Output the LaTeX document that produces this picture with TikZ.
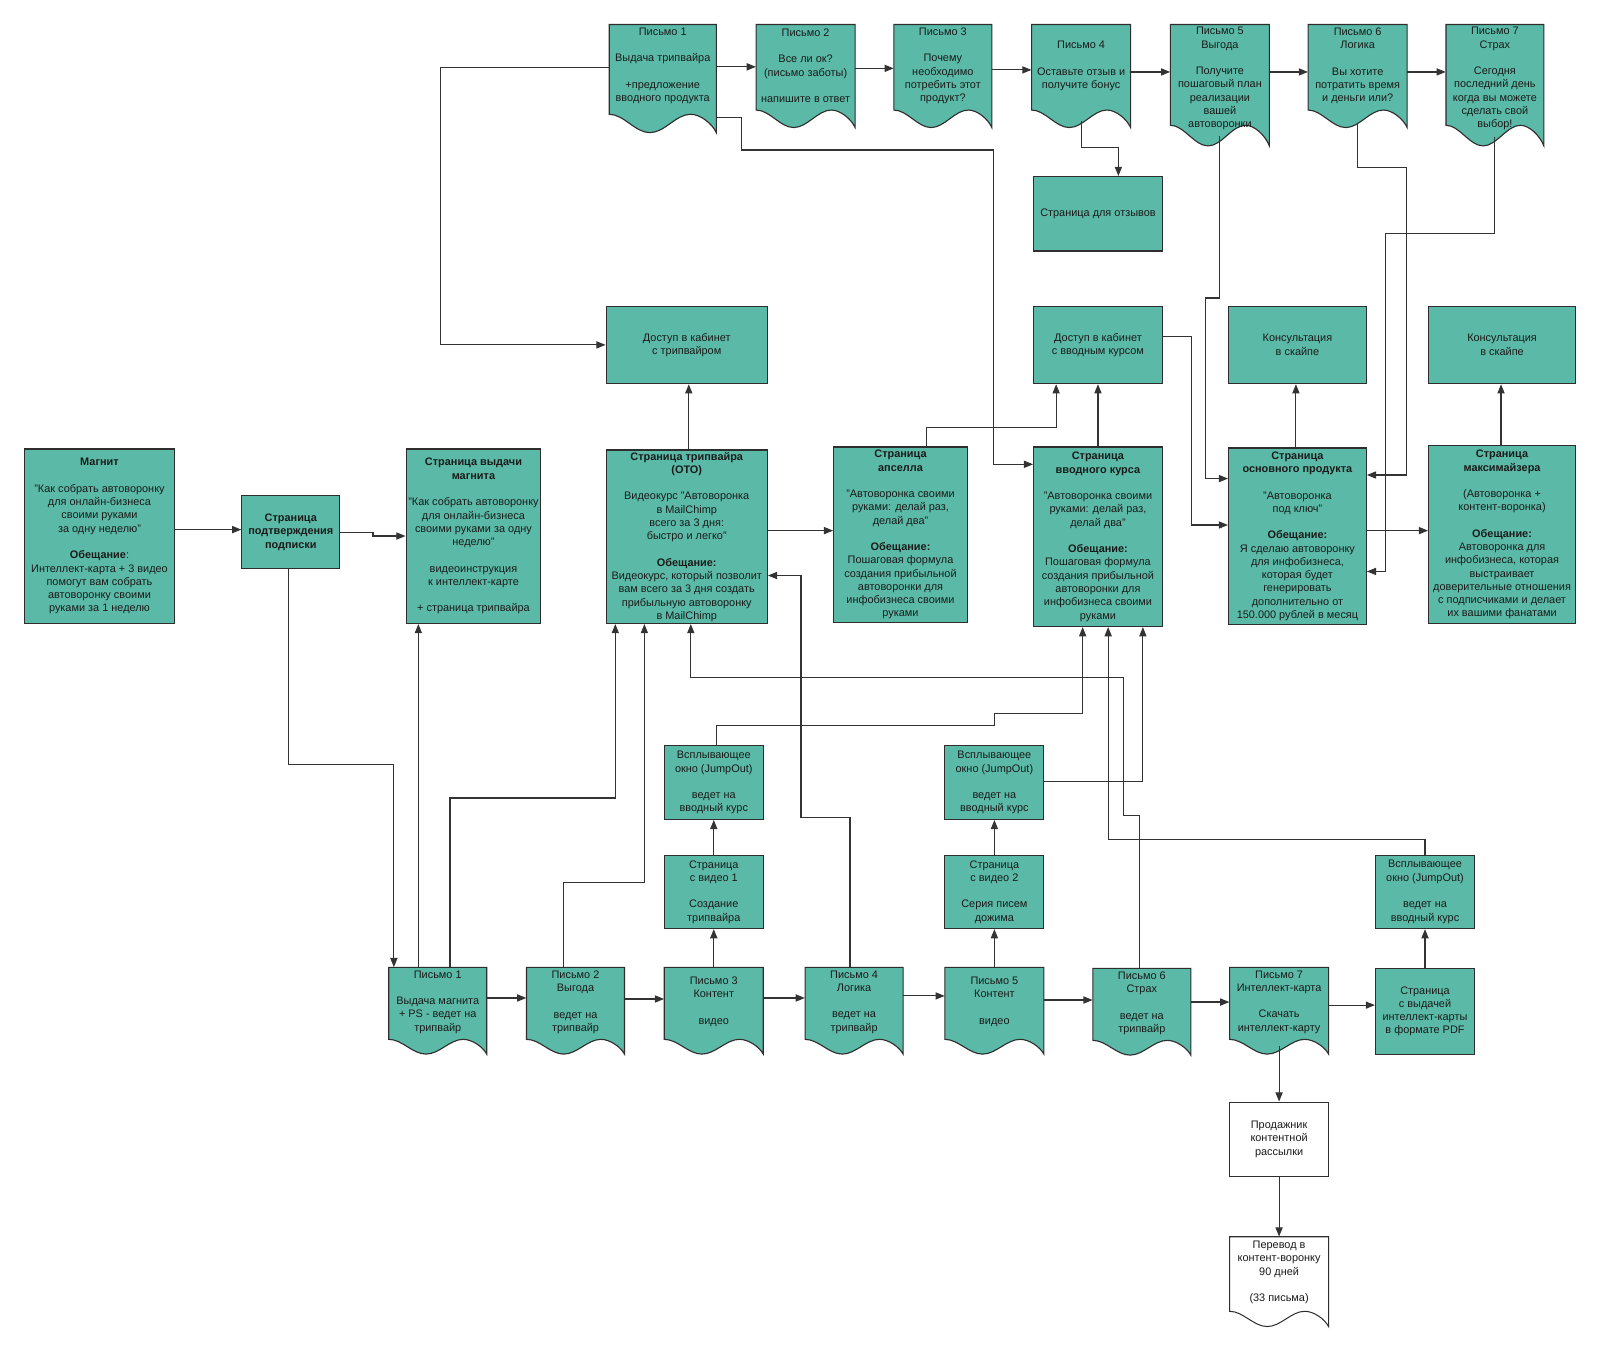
\documentclass[tikz,border=0pt]{standalone}
\usepackage{fontspec}
\setmainfont{Liberation Sans}
\usetikzlibrary{arrows.meta,fit}
\definecolor{tealc}{HTML}{5BBAA7}
\definecolor{bordc}{HTML}{2E2E2E}
\definecolor{linec}{HTML}{333333}
\definecolor{txtc}{HTML}{1A1A1A}
\newcommand\docshape[6]{%
  \pgfmathsetmacro\dW{#4-#2}%
  \pgfmathsetmacro\dD{0.17*(#5-#3)}%
  \pgfmathsetmacro\xA{#2+0.38*\dW}%
  \pgfmathsetmacro\xB{#2+0.76*\dW}%
  \pgfmathsetmacro\yC{#5-\dD}%
  \pgfmathsetmacro\cA{0.137*\dW}%
  \pgfmathsetmacro\cB{0.09*\dW}%
  \pgfmathsetmacro\cC{0.04*\dW}%
  \pgfmathsetmacro\cD{0.5*\dD}%
  \draw[#6] (#2,#3) -- (#2,\yC) .. controls +(\cA,0) and +(-\cA,0) .. (\xA,#5) .. controls +(\cA,0) and +(-\cA,0) .. (\xB,\yC) .. controls +(\cB,0) and +(-\cC,-\cD) .. (#4,#5) -- (#4,#3) -- cycle;
  \node[fit={(#2,#3) (#4,#5)}, inner sep=0pt, draw=none] (#1) {};
}
\begin{document}
\begin{tikzpicture}[x=1pt,y=-1pt,
  every node/.style={font=\fontsize{10.7}{13}\selectfont, text=txtc},
  rb/.style={draw=bordc, fill=tealc, line width=1.1pt, inner sep=1pt, align=center},
  wb/.style={draw=bordc, fill=white, line width=1pt, inner sep=1pt, align=center},
  docfill/.style={draw=bordc, fill=tealc, line width=1.1pt},
  docwhite/.style={draw=bordc, fill=white, line width=1pt},
  txt/.style={align=center, inner sep=0pt},
  arr/.style={draw=linec, line width=1.1pt, -{Triangle[length=9pt,width=7pt]}},
  ln/.style={draw=linec, line width=1.1pt},
]
\fill[white] (0,0) rectangle (1568,1323);
\useasboundingbox (0,0) rectangle (1568,1323);

% ---------- top row letters ----------
\docshape{t1}{597}{24}{702}{130}{docfill}
\node[txt] (t1t) at (649.5,64.5) {Письмо 1\\[13pt]Выдача трипвайра\\[13pt]+предложение\\вводного продукта};
\docshape{t2}{741}{24}{838}{125}{docfill}
\node[txt] (t2t) at (789.5,64.5) {Письмо 2\\[13pt]Все ли ок?\\(письмо заботы)\\[13pt]напишите в ответ};
\docshape{t3}{876}{24}{972}{125}{docfill}
\node[txt] (t3t) at (924,64.5) {Письмо 3\\[13pt]Почему\\необходимо\\потребить этот\\продукт?};
\docshape{t4}{1011}{24}{1108}{125}{docfill}
\node[txt] (t4t) at (1059.5,64.5) {Письмо 4\\[13pt]Оставьте отзыв и\\получите бонус};
\docshape{t5}{1147}{24}{1244}{143}{docfill}
\node[txt] (t5t) at (1195.5,77) {Письмо 5\\Выгода\\[13pt]Получите\\пошаговый план\\реализации\\вашей\\автоворонки};
\docshape{t6}{1282}{24}{1379}{125}{docfill}
\node[txt] (t6t) at (1330.5,64.5) {Письмо 6\\Логика\\[13pt]Вы хотите\\потратить время\\и деньги или?};
\docshape{t7}{1417}{24}{1513}{143}{docfill}
\node[txt] (t7t) at (1465,77) {Письмо 7\\Страх\\[13pt]Сегодня\\последний день\\когда вы можете\\сделать свой\\выбор!};

\node[rb, minimum width=126pt, minimum height=73pt] (otzyv) at (1076,209.5) {Страница для отзывов};

% ---------- middle row ----------
\node[rb, minimum width=147pt, minimum height=171pt] (magnit) at (97.5,525.5) {\textbf{Магнит}\\[13pt]"Как собрать автоворонку\\для онлайн-бизнеса\\своими руками\\за одну неделю"\\[13pt]\textbf{Обещание}:\\Интеллект-карта + 3 видео\\помогут вам собрать\\автоворонку своими\\руками за 1 неделю};
\node[rb, minimum width=96pt, minimum height=71pt] (podtv) at (285,521.5) {\textbf{Страница}\\\textbf{подтверждения}\\\textbf{подписки}};
\node[rb, minimum width=132pt, minimum height=171pt] (vydacha) at (464,525.5) {\textbf{Страница выдачи}\\\textbf{магнита}\\[13pt]"Как собрать автоворонку\\для онлайн-бизнеса\\своими руками за одну\\неделю"\\[13pt]видеоинструкция\\к интеллект-карте\\[13pt]+ страница трипвайра};
\node[rb, minimum width=158pt, minimum height=76pt] (dostup1) at (673,338) {Доступ в кабинет\\с трипвайром};
\node[rb, minimum width=158pt, minimum height=170pt] (tripw) at (673,526) {\textbf{Страница трипвайра}\\\textbf{(ОТО)}\\[13pt]Видеокурс "Автоворонка\\в MailChimp\\всего за 3 дня:\\быстро и легко"\\[13pt]\textbf{Обещание:}\\Видеокурс, который позволит\\вам всего за 3 дня создать\\прибыльную автоворонку\\в MailChimp};
\node[rb, minimum width=131pt, minimum height=172pt] (upsell) at (882.5,524) {\textbf{Страница}\\\textbf{апселла}\\[13pt]"Автоворонка своими\\руками: делай раз,\\делай два"\\[13pt]\textbf{Обещание:}\\Пошаговая формула\\создания прибыльной\\автоворонки для\\инфобизнеса своими\\руками};
\node[rb, minimum width=126pt, minimum height=176pt] (vvodn) at (1076,526) {\textbf{Страница}\\\textbf{вводного курса}\\[13pt]"Автоворонка своими\\руками: делай раз,\\делай два"\\[13pt]\textbf{Обещание:}\\Пошаговая формула\\создания прибыльной\\автоворонки для\\инфобизнеса своими\\руками};
\node[rb, minimum width=126pt, minimum height=76pt] (dostup2) at (1076,338) {Доступ в кабинет\\с вводным курсом};
\node[rb, minimum width=135pt, minimum height=173pt] (osnov) at (1271.5,525.5) {\textbf{Страница}\\\textbf{основного продукта}\\[13pt]"Автоворонка\\под ключ"\\[13pt]\textbf{Обещание:}\\Я сделаю автоворонку\\для инфобизнеса,\\которая будет\\генерировать\\дополнительно от\\150.000 рублей в месяц};
\node[rb, minimum width=135pt, minimum height=76pt] (konsul1) at (1271.5,338) {Консультация\\в скайпе};
\node[rb, minimum width=144pt, minimum height=174pt] (maxim) at (1472,524) {\textbf{Страница}\\\textbf{максимайзера}\\[13pt](Автоворонка +\\контент-воронка)\\[13pt]\textbf{Обещание:}\\Автоворонка для\\инфобизнеса, которая\\выстраивает\\доверительные отношения\\с подписчиками и делает\\их вашими фанатами};
\node[rb, minimum width=144pt, minimum height=76pt] (konsul2) at (1472,338) {Консультация\\в скайпе};

% ---------- lower boxes ----------
\node[rb, minimum width=97pt, minimum height=72pt] (jump1) at (699.5,767) {Всплывающее\\окно (JumpOut)\\[13pt]ведет на\\вводный курс};
\node[rb, minimum width=97pt, minimum height=72pt] (video1) at (699.5,874) {Страница\\с видео 1\\[13pt]Создание\\трипвайра};
\node[rb, minimum width=97pt, minimum height=72pt] (jump2) at (974.5,767) {Всплывающее\\окно (JumpOut)\\[13pt]ведет на\\вводный курс};
\node[rb, minimum width=97pt, minimum height=72pt] (video2) at (974.5,874) {Страница\\с видео 2\\[13pt]Серия писем\\дожима};
\node[rb, minimum width=97pt, minimum height=72pt] (jump3) at (1396.5,874) {Всплывающее\\окно (JumpOut)\\[13pt]ведет на\\вводный курс};
\node[rb, minimum width=97pt, minimum height=84pt] (pdf) at (1396.5,991) {Страница\\с выдачей\\интеллект-карты\\в формате PDF};
\node[wb, minimum width=97pt, minimum height=73pt] (prodazh) at (1253.5,1116.5) {Продажник\\контентной\\рассылки};

% ---------- bottom row letters ----------
\docshape{b1}{381}{948}{477}{1033}{docfill}
\node[txt] (b1t) at (429,982) {Письмо 1\\[13pt]Выдача магнита\\+ PS - ведет на\\трипвайр};
\docshape{b2}{516}{948}{612}{1033}{docfill}
\node[txt] (b2t) at (564,982) {Письмо 2\\Выгода\\[13pt]ведет на\\трипвайр};
\docshape{b3}{651}{948}{748}{1033}{docfill}
\node[txt] (b3t) at (699.5,981.5) {Письмо 3\\Контент\\[13pt]видео};
\docshape{b4}{789}{948}{885}{1033}{docfill}
\node[txt] (b4t) at (837,982) {Письмо 4\\Логика\\[13pt]ведет на\\трипвайр};
\docshape{b5}{926}{948}{1023}{1033}{docfill}
\node[txt] (b5t) at (974.5,981.5) {Письмо 5\\Контент\\[13pt]видео};
\docshape{b6}{1071}{949}{1167}{1034}{docfill}
\node[txt] (b6t) at (1119,983) {Письмо 6\\Страх\\[13pt]ведет на\\трипвайр};
\docshape{b7}{1205}{948}{1302}{1033}{docfill}
\node[txt] (b7t) at (1253.5,982) {Письмо 7\\Интеллект-карта\\[13pt]Скачать\\интеллект-карту};
\docshape{perevod}{1205}{1212}{1302}{1300}{docwhite}
\node[txt] (perevodt) at (1253.5,1247) {Перевод в\\контент-воронку\\90 дней\\[13pt](33 письма)};

% ---------- connectors: top ----------
\draw[arr] (t1.east |- 0,65.5) -- (t2.west |- 0,65.5);
\draw[arr] (t2.east |- 0,67) -- (t3.west |- 0,67);
\draw[arr] (t3.east |- 0,68.5) -- (t4.west |- 0,68.5);
\draw[arr] (t4.east |- 0,70.5) -- (t5.west |- 0,70.5);
\draw[arr] (t5.east |- 0,70.5) -- (t6.west |- 0,70.5);
\draw[arr] (t6.east |- 0,70.5) -- (t7.west |- 0,70.5);
\draw[arr] (t1.west |- 0,66) -| (432,338) -- (dostup1.west);
\draw[arr] (t1.east |- 0,115.5) -| (727,147) -| (974,455) -- (vvodn.west |- 0,455);
\draw[arr] ([yshift=7pt]t4.south) |- (1096,144.5) -- (otzyv.north -| 1096,0);
\draw[arr] ([yshift=10pt]t5.south) |- (1181,292) |- (osnov.west |- 0,469);
\draw[arr] ([yshift=4pt]t6.south) |- (1378,164.5) |- (osnov.east |- 0,465.5);
\draw[arr] ([yshift=9pt]t7.south) |- (1358,229) |- (osnov.east |- 0,560);

% ---------- connectors: middle ----------
\draw[arr] (magnit.east |- 0,519) -- (podtv.west |- 0,519);
\draw[arr] (podtv.east |- 0,522) -- (365.5,522) -- (365.5,525.3) -- (vydacha.west |- 0,525.3);
\draw[arr] (podtv.south -| 283,0) |- (386,749) -- (b1.north -| 386,0);
\draw[arr] (tripw.north -| 675,0) -- (dostup1.south -| 675,0);
\draw[arr] (tripw.east |- 0,520) -- (upsell.west |- 0,520);
\draw[arr] (upsell.north -| 908,0) |- (1035,419) -- (dostup2.south -| 1035,0);
\draw[arr] (vvodn.north) -- (dostup2.south);
\draw[arr] (dostup2.east |- 0,330) -| (1167.5,514.5) -- (osnov.west |- 0,514.5);
\draw[arr] (osnov.north -| 1270,0) -- (konsul1.south -| 1270,0);
\draw[arr] (osnov.east |- 0,520) -- (maxim.west |- 0,520);
\draw[arr] (maxim.north -| 1471,0) -- (konsul2.south -| 1471,0);

% ---------- connectors: bottom to pages ----------
\draw[arr] (b1.north -| 410,0) -- (vydacha.south -| 410,0);
\draw[arr] (b1.north -| 441,0) |- (603,782) -- (tripw.south -| 603,0);
\draw[arr] (b2.north -| 552,0) |- (631.5,865) -- (tripw.south -| 631.5,0);
\draw[arr] (b4.north -| 833,0) |- (785,801) |- (tripw.east |- 0,564);
\draw[arr] (b6.north -| 1116.5,0) |- (1101,799) |- (677,664) -- (tripw.south -| 677,0);
\draw[arr] (jump1.north -| 702,0) |- (975,711) |- (1061,699) -- (vvodn.south -| 1061,0);
\draw[arr] (jump2.east |- 0,766) -| (vvodn.south -| 1120,0);
\draw[arr] (jump3.north) |- (1086,823) -- (vvodn.south -| 1086,0);

% ---------- connectors: bottom row ----------
\draw[arr] (b1.east |- 0,978) -- (b2.west |- 0,978);
\draw[arr] (b2.east |- 0,979) -- (b3.west |- 0,979);
\draw[arr] (b3.east |- 0,978) -- (b4.west |- 0,978);
\draw[arr] (b4.east |- 0,976) -- (b5.west |- 0,976);
\draw[arr] (b5.east |- 0,980) -- (b6.west |- 0,980);
\draw[arr] (b6.east |- 0,982) -- (b7.west |- 0,982);
\draw[arr] (b7.east |- 0,985) -- (pdf.west |- 0,985);
\draw[arr] (b3.north) -- (video1.south);
\draw[arr] (video1.north) -- (jump1.south);
\draw[arr] (b5.north) -- (video2.south);
\draw[arr] (video2.north) -- (jump2.south);
\draw[arr] (pdf.north) -- (jump3.south);
\draw[arr] ([yshift=8pt]b7.south) -- (prodazh.north);
\draw[arr] (prodazh.south) -- (perevod.north);
\end{tikzpicture}
\end{document}
